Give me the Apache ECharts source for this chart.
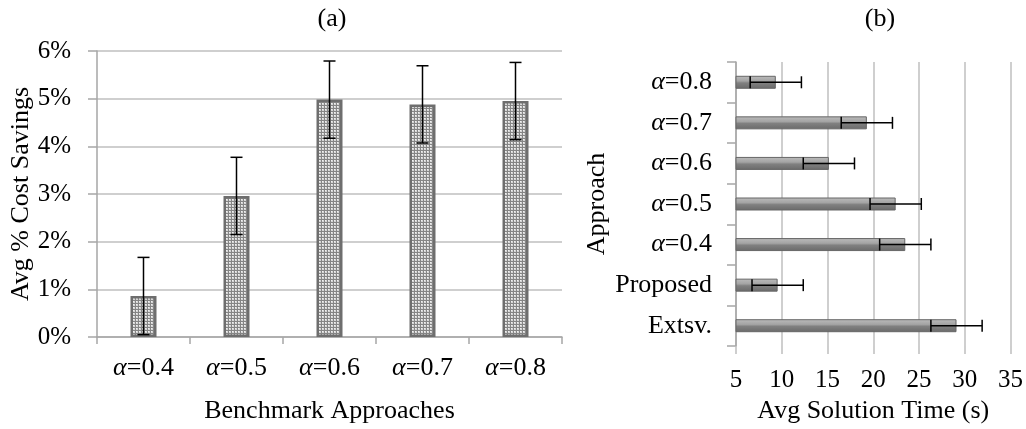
<!DOCTYPE html>
<html>
<head>
<meta charset="utf-8">
<script src="https://cdn.jsdelivr.net/npm/echarts@6/dist/echarts.min.js"></script>
<style>
html,body{margin:0;padding:0;background:#fff;}
#main{width:1026px;height:429px;}
</style>
</head>
<body>
<div id="main"></div>
<script>
// ---- Data ----
const catsA = ['α=0.4', 'α=0.5', 'α=0.6', 'α=0.7', 'α=0.8'];
const savings = [0.86, 2.96, 4.98, 4.88, 4.95];
const savingsErr = [0.81, 0.81, 0.81, 0.81, 0.81];
const ticksA = [0, 1, 2, 3, 4, 5, 6];

const catsB = ['Extsv.', 'Proposed', 'α=0.4', 'α=0.5', 'α=0.6', 'α=0.7', 'α=0.8'];
const times = [29.1, 9.55, 23.5, 22.45, 15.15, 19.3, 9.35];
const timesErr = [2.8, 2.8, 2.8, 2.8, 2.8, 2.8, 2.8];
const ticksB = [5, 10, 15, 20, 25, 30, 35];

// ---- Styles ----
const FONT = '"Liberation Serif", "Times New Roman", serif';
const GRID_C = '#bfbfbf';
const AXIS_C = '#a6a6a6';

function catFmt(v) {
  return v.charAt(0) === 'α' ? '{i|α}{n|' + v.slice(1) + '}' : '{n|' + v + '}';
}
const richCat = {
  i: { fontFamily: FONT, fontStyle: 'italic', fontSize: 26, color: '#000' },
  n: { fontFamily: FONT, fontSize: 26, color: '#000' }
};

// dotted pattern for (a)
const pc = document.createElement('canvas');
pc.width = 3; pc.height = 3;
const pctx = pc.getContext('2d');
pctx.fillStyle = '#858585';
pctx.fillRect(0, 0, 3, 3);
pctx.fillStyle = '#d6d6d6';
pctx.fillRect(1, 1, 2, 2);
pctx.fillStyle = '#f2f2f2';
pctx.fillRect(1, 1, 1, 1);

const chart = echarts.init(document.getElementById('main'), null, { renderer: 'canvas' });

function errV(params, api) {
  const x = api.value(0), lo = api.value(1), hi = api.value(2);
  const p1 = api.coord([x, lo]);
  const p2 = api.coord([x, hi]);
  const w = 6;
  const st = { stroke: '#000', lineWidth: 1.5 };
  return {
    type: 'group',
    children: [
      { type: 'line', shape: { x1: p1[0], y1: p1[1], x2: p2[0], y2: p2[1] }, style: st },
      { type: 'line', shape: { x1: p1[0] - w, y1: p1[1], x2: p1[0] + w, y2: p1[1] }, style: st },
      { type: 'line', shape: { x1: p2[0] - w, y1: p2[1], x2: p2[0] + w, y2: p2[1] }, style: st }
    ]
  };
}
function errH(params, api) {
  const lo = api.value(0), hi = api.value(1), y = api.value(2);
  const p1 = api.coord([lo, y]);
  const p2 = api.coord([hi, y]);
  const h = 6;
  const st = { stroke: '#000', lineWidth: 1.5 };
  return {
    type: 'group',
    children: [
      { type: 'line', shape: { x1: p1[0], y1: p1[1], x2: p2[0], y2: p2[1] }, style: st },
      { type: 'line', shape: { x1: p1[0], y1: p1[1] - h, x2: p1[0], y2: p1[1] + h }, style: st },
      { type: 'line', shape: { x1: p2[0], y1: p2[1] - h, x2: p2[0], y2: p2[1] + h }, style: st }
    ]
  };
}

const errDataA = catsA.map((c, i) => [i, savings[i] - savingsErr[i], savings[i] + savingsErr[i]]);
const errDataB = catsB.map((c, i) => [times[i] - timesErr[i], times[i] + timesErr[i], i]);

const option = {
  backgroundColor: '#fff',
  animation: false,
  title: [
    { text: '(a)', left: 327, top: 1, textAlign: 'center',
      textStyle: { fontFamily: FONT, fontSize: 26, fontWeight: 'normal', color: '#000' } },
    { text: '(b)', left: 875, top: 1, textAlign: 'center',
      textStyle: { fontFamily: FONT, fontSize: 26, fontWeight: 'normal', color: '#000' } }
  ],
  grid: [
    { left: 97, right: 464, top: 51, bottom: 92 },
    { left: 736, right: 15, top: 62, bottom: 78 }
  ],
  xAxis: [
    {
      gridIndex: 0, type: 'category', data: catsA,
      name: 'Benchmark Approaches', nameLocation: 'middle', nameGap: 61,
      nameTextStyle: { fontFamily: FONT, fontSize: 26, color: '#000' },
      axisLine: { show: true, lineStyle: { color: AXIS_C, width: 1.5 } },
      axisTick: { show: true, length: 7, lineStyle: { color: AXIS_C, width: 1.5 } },
      axisLabel: { margin: 18, formatter: catFmt, rich: richCat }
    },
    {
      gridIndex: 1, type: 'value', min: 5, max: 35, interval: 5,
      name: 'Avg Solution Time (s)', nameLocation: 'middle', nameGap: 52,
      nameTextStyle: { fontFamily: FONT, fontSize: 26, color: '#000' },
      axisLine: { show: false },
      axisTick: { show: true, length: 8, lineStyle: { color: GRID_C, width: 1.5 } },
      splitLine: { show: true, lineStyle: { color: GRID_C, width: 1.5 } },
      axisLabel: { margin: 22, fontFamily: FONT, fontSize: 25, color: '#000',
        formatter: v => ticksB.includes(v) ? String(v) : '' }
    }
  ],
  yAxis: [
    {
      gridIndex: 0, type: 'value', min: 0, max: 6, interval: 1,
      name: 'Avg % Cost Savings', nameLocation: 'middle', nameGap: 62, nameRotate: 90,
      nameTextStyle: { fontFamily: FONT, fontSize: 26, color: '#000' },
      axisLine: { show: true, lineStyle: { color: AXIS_C, width: 1.5 } },
      axisTick: { show: true, length: 9, lineStyle: { color: AXIS_C, width: 1.5 } },
      splitLine: { show: true, lineStyle: { color: GRID_C, width: 1.5 } },
      axisLabel: { margin: 26, fontFamily: FONT, fontSize: 25, color: '#000',
        formatter: v => ticksA.includes(v) ? v + '%' : '' }
    },
    {
      gridIndex: 1, type: 'category', data: catsB,
      name: 'Approach', nameLocation: 'middle', nameGap: 126, nameRotate: 90,
      nameTextStyle: { fontFamily: FONT, fontSize: 26, color: '#000' },
      axisLine: { show: true, lineStyle: { color: AXIS_C, width: 1.5 } },
      axisTick: { show: true, length: 9, lineStyle: { color: AXIS_C, width: 1.5 } },
      axisLabel: { margin: 24, formatter: catFmt, rich: richCat }
    }
  ],
  series: [
    {
      type: 'bar', xAxisIndex: 0, yAxisIndex: 0, data: savings, barWidth: 26,
      itemStyle: { color: { image: pc, repeat: 'repeat' }, borderColor: '#6e6e6e', borderWidth: 2.5 },
      z: 2
    },
    {
      type: 'custom', xAxisIndex: 0, yAxisIndex: 0, data: errDataA, renderItem: errV, z: 5,
      encode: { x: 0, y: [1, 2] }
    },
    {
      type: 'bar', xAxisIndex: 1, yAxisIndex: 1, data: times, barWidth: 13,
      itemStyle: {
        color: new echarts.graphic.LinearGradient(0, 0, 0, 1, [
          { offset: 0, color: '#bcbcbc' },
          { offset: 0.4, color: '#a4a4a4' },
          { offset: 0.55, color: '#808080' },
          { offset: 1, color: '#6a6a6a' }
        ]),
        borderColor: '#666666', borderWidth: 1
      },
      z: 2
    },
    {
      type: 'custom', xAxisIndex: 1, yAxisIndex: 1, data: errDataB, renderItem: errH, z: 5,
      encode: { x: [0, 1], y: 2 }
    }
  ]
};
chart.setOption(option);
</script>
</body>
</html>
